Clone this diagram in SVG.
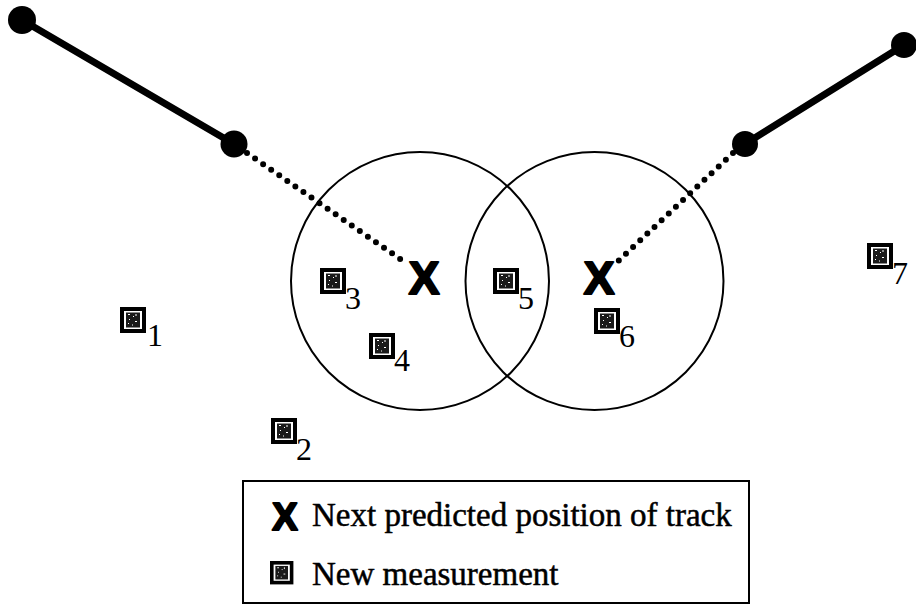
<svg xmlns="http://www.w3.org/2000/svg" width="916" height="606" viewBox="0 0 916 606">
<defs>
<style>
.gate{fill:none;stroke:#000;stroke-width:2}
.track{stroke:#000;stroke-width:7;stroke-linecap:round}
.pred{stroke:#000;stroke-width:6;stroke-linecap:round;stroke-dasharray:0 9.8;fill:none}
.pt{fill:#000}
.xm{font-family:"Liberation Sans",Arial,sans-serif;font-weight:bold;font-size:46px;text-anchor:middle;fill:#000;stroke:#000;stroke-width:2.2;stroke-linejoin:round}
.sub{font-family:"Liberation Serif","Times New Roman",serif;font-size:32px;fill:#000}
.leg{font-family:"Liberation Serif","Times New Roman",serif;font-size:33px;fill:#000;stroke:#000;stroke-width:0.5}
</style>
<g id="meas">
<rect x="0" y="0" width="26" height="26" fill="#000"/>
<rect x="4" y="4" width="18" height="18" fill="#fff"/>
<rect x="6" y="5.5" width="14" height="15" fill="#1a1a1a"/>
<path d="M8 7.5h2M13 9.5h1M9 12.5h1M15 14.5h2M8 16.5h1M12 18h1M16 7v2" stroke="#fff" stroke-width="1"/>
</g>
</defs>
<rect width="916" height="606" fill="#fff"/>
<g id="connectors">
<line class="track" x1="22" y1="20" x2="234" y2="144"/>
<line class="track" x1="904" y1="45" x2="745" y2="144"/>
<line class="pred" x1="247" y1="153" x2="406" y2="263"/>
<line class="pred" x1="733" y1="153" x2="614" y2="265"/>
</g>
<g id="track-left">
<circle class="pt" cx="22" cy="20" r="14"/>
<circle class="pt" cx="234" cy="144" r="13.5"/>
</g>
<g id="track-right">
<circle class="pt" cx="904" cy="45" r="13"/>
<circle class="pt" cx="745" cy="144" r="13"/>
</g>
<g id="gate-left">
<circle class="gate" cx="420" cy="281" r="129"/>
<text class="xm" x="424" y="294">X</text>
</g>
<g id="gate-right">
<circle class="gate" cx="594.5" cy="281" r="129"/>
<text class="xm" x="599" y="294">X</text>
</g>
<g id="m1"><use href="#meas" x="120" y="307"/><text class="sub" x="147" y="346">1</text></g>
<g id="m2"><use href="#meas" x="271" y="418"/><text class="sub" x="296" y="460">2</text></g>
<g id="m3"><use href="#meas" x="320" y="268"/><text class="sub" x="345" y="309">3</text></g>
<g id="m4"><use href="#meas" x="369" y="333"/><text class="sub" x="394" y="371">4</text></g>
<g id="m5"><use href="#meas" x="493" y="268"/><text class="sub" x="518" y="309">5</text></g>
<g id="m6"><use href="#meas" x="594" y="308"/><text class="sub" x="619" y="347">6</text></g>
<g id="m7"><use href="#meas" x="867" y="243"/><text class="sub" x="892" y="284">7</text></g>
<g id="legend">
<rect x="243" y="481" width="506" height="122" fill="none" stroke="#000" stroke-width="2"/>
<text class="xm" x="285" y="530" style="font-size:38px">X</text>
<text class="leg" x="312" y="526">Next predicted position of track</text>
<use href="#meas" x="270" y="561" transform="translate(270 561) scale(0.9) translate(-270 -561)"/>
<text class="leg" x="312" y="585">New measurement</text>
</g>
</svg>
